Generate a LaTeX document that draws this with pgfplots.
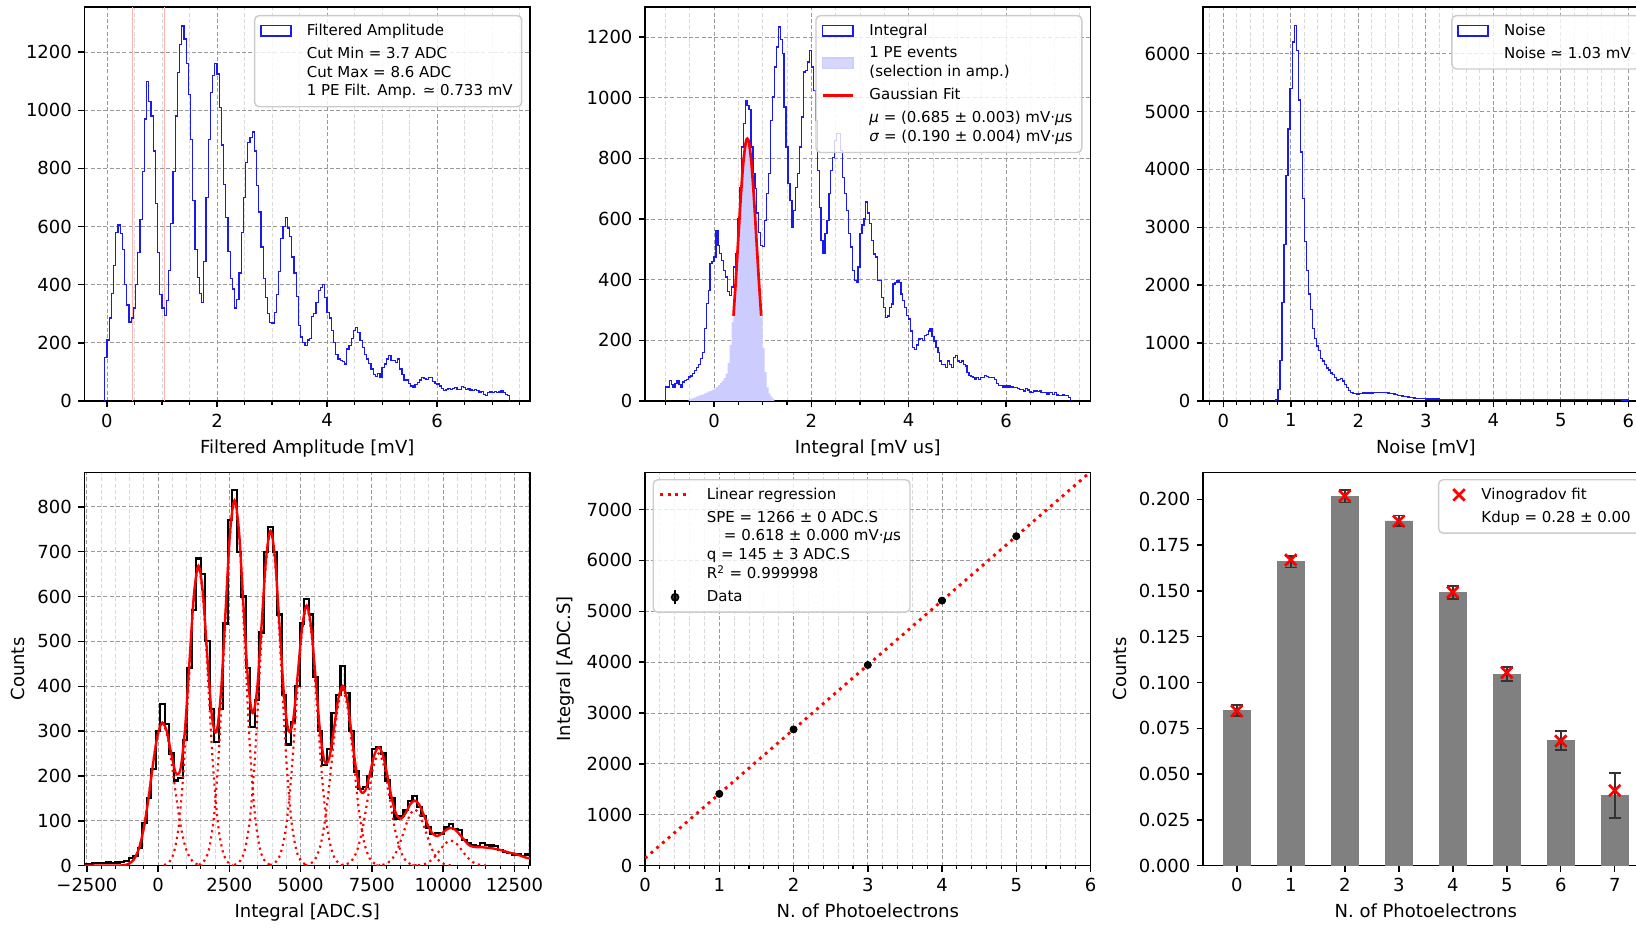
\documentclass[border=0pt]{standalone}
\usepackage{fontspec}
\setmainfont{DejaVu Sans}
\usepackage{pgfplots}
\pgfplotsset{compat=1.18}
\definecolor{hblue}{rgb}{0.1,0.1,0.95}
\definecolor{lblue}{rgb}{0.8,0.8,1}
\definecolor{cutred}{rgb}{1,0.7,0.7}
\definecolor{errgray}{rgb}{0.2,0.2,0.2}
\definecolor{bargray}{rgb}{0.5,0.5,0.5}
\pgfplotsset{
  mpl/.style={
    scale only axis, width=247.5pt,
    tick align=outside, tick pos=left,
    major tick length=3.5pt, minor tick length=2pt,
    every tick/.append style={black, line width=0.8pt},
    every minor tick/.append style={line width=0.6pt},
    axis line style={line width=0.8pt},
    tick label style={font=\fontsize{10}{12}\selectfont},
    label style={font=\fontsize{10}{12}\selectfont},
    /pgf/number format/assume math mode=true,
    /pgf/number format/1000 sep={},
    scaled ticks=false,
    legend cell align=left,
    legend style={font=\fontsize{8.33}{10.5}\selectfont, draw=black!20, line width=0.8pt,
      rounded corners=2.5pt, fill=white, fill opacity=0.8, text opacity=1, draw opacity=1,
      inner xsep=3pt, inner ysep=2.5pt,
      cells={anchor=west, align=left, inner ysep=0.8pt, inner xsep=1pt}, row sep=1pt,
      /tikz/every odd column/.append style={column sep=6.5pt}},
  },
  mplgrid/.style={grid=both,
    major grid style={line width=0.5pt, gray!80, dash pattern=on 2.2pt off 1.3pt},
    minor grid style={line width=0.5pt, gray!30, dash pattern=on 2.2pt off 1.3pt}},
  hist/.style={const plot, hblue, line width=0.7pt},
  fitdot/.style={red, line width=1.2pt, dash pattern=on 1.2pt off 2.2pt, smooth},
  rectleg/.style={legend image code/.code={\draw[hblue, line width=0.8pt, sharp corners] (0pt,-2.9pt) rectangle (16.7pt,2.9pt);}},
}
\begin{document}
\begin{tikzpicture}
% ---------------- Panel 1 ----------------
\begin{axis}[mpl, mplgrid, at={(46.95pt,511.15pt)}, anchor=north west, height=218.9pt,
  xmin=-0.408, xmax=7.688, ymin=0, ymax=1355,
  xtick={0,2,4,6}, minor xtick={-0.5,0,...,7.5}, ytick={0,200,...,1200},
  xlabel={Filtered Amplitude [mV]},
  legend style={at={(0.983,0.98)}, anchor=north east}]
\addlegendimage{rectleg}
\addlegendentry{Filtered Amplitude}
\addlegendimage{empty legend}
\addlegendentry{Cut Min = 3.7 ADC\\Cut Max = 8.6 ADC\\1 PE Filt. Amp. ≃ 0.733 mV}
\addplot[cutred, line width=0.8pt, forget plot] coordinates {(0.46,0) (0.46,1355)};
\addplot[cutred, line width=0.8pt, forget plot] coordinates {(1.05,0) (1.05,1355)};
\addplot[hist, forget plot] coordinates {(-0.04,0) (-0.04,150) (0,210) (0.04,285) (0.08,370) (0.12,465) (0.16,580) (0.2,605) (0.24,575) (0.28,520) (0.32,400) (0.36,330) (0.4,272) (0.44,285) (0.48,320) (0.52,400) (0.56,510) (0.6,625) (0.64,790) (0.68,970) (0.72,1100) (0.76,1030) (0.8,980) (0.84,860) (0.88,680) (0.92,510) (0.96,365) (1,320) (1.04,295) (1.08,345) (1.12,450) (1.16,610) (1.2,790) (1.24,980) (1.28,1130) (1.32,1225) (1.36,1290) (1.4,1245) (1.44,1160) (1.48,1055) (1.52,900) (1.56,690) (1.6,520) (1.64,425) (1.68,370) (1.72,340) (1.76,480) (1.8,700) (1.84,900) (1.88,1060) (1.92,1120) (1.96,1160) (2,1125) (2.04,1010) (2.08,880) (2.12,745) (2.16,630) (2.2,515) (2.24,420) (2.28,385) (2.32,320) (2.36,350) (2.4,440) (2.44,580) (2.48,700) (2.52,820) (2.56,890) (2.6,905) (2.64,925) (2.68,860) (2.72,740) (2.76,650) (2.8,530) (2.84,420) (2.88,355) (2.92,300) (2.96,270) (3,268) (3.04,305) (3.08,365) (3.12,445) (3.16,560) (3.2,600) (3.24,630) (3.28,595) (3.32,565) (3.36,495) (3.4,440) (3.44,360) (3.48,260) (3.52,220) (3.56,200) (3.6,190) (3.64,210) (3.68,215) (3.72,290) (3.76,300) (3.8,340) (3.84,380) (3.88,390) (3.92,400) (3.96,357) (4,305) (4.04,285) (4.08,242) (4.12,200) (4.16,160) (4.2,144) (4.24,138) (4.28,135) (4.32,127) (4.36,179) (4.4,190) (4.44,215) (4.48,242) (4.52,254) (4.56,235) (4.6,207) (4.64,184) (4.68,160) (4.72,144) (4.76,130) (4.8,110) (4.84,92) (4.88,85) (4.92,95) (4.96,80) (5,115) (5.04,127) (5.08,144) (5.12,156) (5.16,138) (5.2,140) (5.24,132) (5.28,144) (5.32,110) (5.36,92) (5.4,72) (5.44,72) (5.48,60) (5.52,52) (5.56,46) (5.6,56) (5.64,63) (5.68,72) (5.72,80) (5.76,77) (5.8,75) (5.84,80) (5.88,81) (5.92,68) (5.96,60) (6,58) (6.04,52) (6.08,42) (6.12,35) (6.16,40) (6.2,44) (6.24,40) (6.28,44) (6.32,46) (6.36,40) (6.4,40) (6.44,50) (6.48,46) (6.52,40) (6.56,43) (6.6,38) (6.64,35) (6.68,40) (6.72,36) (6.76,29) (6.8,32) (6.84,22) (6.88,18) (6.92,28) (6.96,33) (7,29) (7.04,32) (7.08,28) (7.12,31) (7.16,35) (7.2,28) (7.24,23) (7.28,20) (7.32,0)};
\end{axis}
% ---------------- Panel 2 ----------------
\begin{axis}[mpl, mplgrid, at={(358.4pt,511.15pt)}, anchor=north west, height=218.9pt,
  xmin=-1.416, xmax=7.736, ymin=0, ymax=1299,
  xtick={0,2,4,6}, minor xtick={-1,-0.5,...,7.5}, ytick={0,200,...,1200},
  xlabel={Integral [mV us]},
  legend style={at={(0.982,0.98)}, anchor=north east}]
\addlegendimage{rectleg}
\addlegendentry{Integral}
\addlegendimage{legend image code/.code={\fill[lblue, sharp corners] (0pt,-2.9pt) rectangle (16.7pt,2.9pt);}}
\addlegendentry{1 PE events\\(selection in amp.)}
\addlegendimage{legend image code/.code={\draw[red, line width=1.5pt] (0pt,0pt) -- (16.7pt,0pt);}}
\addlegendentry{Gaussian Fit}
\addlegendimage{empty legend}
\addlegendentry{\textit{μ} = (0.685 ± 0.003) mV·\textit{μ}s\\\textit{σ} = (0.190 ± 0.004) mV·\textit{μ}s}
\addplot[hist, forget plot] coordinates {(-1,0) (-1,46) (-0.96,46) (-0.92,68) (-0.88,55) (-0.84,46) (-0.8,57) (-0.76,68) (-0.72,55) (-0.68,46) (-0.64,63) (-0.6,68) (-0.56,70) (-0.52,79) (-0.48,82) (-0.44,90) (-0.4,101) (-0.36,110) (-0.32,120) (-0.28,140) (-0.24,160) (-0.2,238) (-0.16,321) (-0.12,365) (-0.08,453) (-0.04,460) (0,475) (0.04,563) (0.08,513) (0.12,486) (0.16,464) (0.2,431) (0.24,409) (0.28,360) (0.32,348) (0.36,376) (0.4,442) (0.44,486) (0.48,600) (0.52,705) (0.56,837) (0.6,914) (0.64,991) (0.68,975) (0.72,960) (0.76,837) (0.8,750) (0.84,700) (0.88,620) (0.92,555) (0.96,513) (1,510) (1.04,596) (1.08,684) (1.12,750) (1.16,925) (1.2,1002) (1.24,1101) (1.28,1167) (1.32,1233) (1.36,1191) (1.4,1145) (1.44,969) (1.48,837) (1.52,716) (1.56,661) (1.6,574) (1.64,629) (1.68,705) (1.72,750) (1.76,837) (1.8,936) (1.84,1085) (1.88,1090) (1.92,1118) (1.96,1155) (2,1101) (2.04,1024) (2.08,925) (2.12,761) (2.16,637) (2.2,530) (2.24,486) (2.28,552) (2.32,596) (2.36,684) (2.4,761) (2.44,804) (2.48,859) (2.52,881) (2.56,881) (2.6,826) (2.64,738) (2.68,684) (2.72,629) (2.76,552) (2.8,508) (2.84,431) (2.88,398) (2.92,392) (2.96,442) (3,552) (3.04,580) (3.08,600) (3.12,656) (3.16,620) (3.2,584) (3.24,530) (3.28,485) (3.32,475) (3.36,397) (3.4,397) (3.44,342) (3.48,309) (3.52,275) (3.56,280) (3.6,309) (3.64,320) (3.68,386) (3.72,390) (3.76,397) (3.8,390) (3.84,353) (3.88,331) (3.92,309) (3.96,281) (4,270) (4.04,231) (4.08,176) (4.12,170) (4.16,185) (4.2,204) (4.24,207) (4.28,200) (4.32,215) (4.36,220) (4.4,231) (4.44,237) (4.48,212) (4.52,198) (4.56,176) (4.6,160) (4.64,132) (4.68,121) (4.72,121) (4.76,110) (4.8,132) (4.84,121) (4.88,110) (4.92,143) (4.96,149) (5,132) (5.04,128) (5.08,132) (5.12,121) (5.16,115) (5.2,94) (5.24,83) (5.28,80) (5.32,77) (5.36,72) (5.4,77) (5.44,72) (5.48,77) (5.52,77) (5.56,83) (5.6,80) (5.64,77) (5.68,77) (5.72,77) (5.76,72) (5.8,58) (5.84,50) (5.88,50) (5.92,44) (5.96,50) (6,44) (6.04,50) (6.08,44) (6.12,48) (6.16,44) (6.2,44) (6.24,41) (6.28,39) (6.32,39) (6.36,33) (6.4,40) (6.44,36) (6.48,30) (6.52,28) (6.56,33) (6.6,33) (6.64,31) (6.68,33) (6.72,28) (6.76,28) (6.8,28) (6.84,22) (6.88,27) (6.92,27) (6.96,22) (7,27) (7.04,20) (7.08,17) (7.12,17) (7.16,20) (7.2,17) (7.24,17) (7.28,12) (7.32,0)};
\addplot[const plot, fill=lblue, draw=none, forget plot] coordinates {(-0.52,0) (-0.52,5) (-0.48,8) (-0.44,10) (-0.4,12) (-0.36,15) (-0.32,18) (-0.28,20) (-0.24,22) (-0.2,25) (-0.16,28) (-0.12,32) (-0.08,33) (-0.04,36) (0,40) (0.04,46) (0.08,52) (0.12,60) (0.16,66) (0.2,75) (0.24,90) (0.28,125) (0.32,185) (0.36,260) (0.4,330) (0.44,410) (0.48,495) (0.52,610) (0.56,720) (0.6,800) (0.64,845) (0.68,848) (0.72,820) (0.76,755) (0.8,690) (0.84,590) (0.88,460) (0.92,350) (0.96,275) (1,175) (1.04,95) (1.08,45) (1.12,25) (1.16,15) (1.2,8) (1.24,0)};
\addplot[red, line width=1.5pt, smooth, forget plot] coordinates {(0.40,281) (0.45,402) (0.50,538) (0.55,672) (0.60,783) (0.65,850) (0.685,865) (0.72,850) (0.77,783) (0.82,672) (0.87,538) (0.92,402) (0.97,281)};
\end{axis}
% ---------------- Panel 3 ----------------
\begin{axis}[mpl, mplgrid, at={(668.4pt,511.15pt)}, anchor=north west, height=218.9pt,
  xmin=-0.3, xmax=6.3, ymin=0, ymax=6805,
  xtick={0,...,6}, minor xtick={-0.2,0,...,6.2}, ytick={0,1000,...,6000},
  xlabel={Noise [mV]},
  legend style={at={(0.982,0.98)}, anchor=north east}]
\addlegendimage{rectleg}
\addlegendentry{Noise}
\addlegendimage{empty legend}
\addlegendentry{Noise ≃ 1.03 mV}
\addplot[hist, forget plot] coordinates {(0.78,0) (0.78,20) (0.81,200) (0.84,700) (0.87,1700) (0.9,2700) (0.93,3900) (0.96,4700) (0.99,5400) (1.02,6200) (1.05,6490) (1.08,6050) (1.11,5200) (1.14,4300) (1.17,3500) (1.2,2750) (1.23,2250) (1.26,1850) (1.29,1580) (1.32,1250) (1.35,1080) (1.38,950) (1.41,870) (1.44,730) (1.47,690) (1.5,630) (1.53,570) (1.56,535) (1.59,484) (1.62,455) (1.65,410) (1.68,362) (1.71,370) (1.74,385) (1.77,345) (1.8,290) (1.83,230) (1.86,180) (1.89,145) (1.92,130) (1.95,135) (1.98,118) (2.01,127) (2.04,130) (2.07,138) (2.1,135) (2.13,140) (2.16,144) (2.19,140) (2.22,145) (2.25,148) (2.28,150) (2.31,152) (2.34,150) (2.37,148) (2.4,144) (2.43,140) (2.46,130) (2.49,125) (2.52,120) (2.55,110) (2.58,100) (2.61,92) (2.64,85) (2.67,80) (2.7,75) (2.73,70) (2.76,62) (2.79,55) (2.82,50) (2.85,45) (2.88,42) (2.91,40) (2.94,38) (3.0,36) (3.1,34) (3.2,32) (3.3,31) (3.4,30) (3.5,29) (3.6,28) (3.7,28) (3.8,27) (3.9,27) (4.0,26) (4.1,26) (4.2,25) (4.3,25) (4.4,24) (4.5,24) (4.6,23) (4.7,23) (4.8,23) (4.9,22) (5.0,22) (5.1,22) (5.2,21) (5.3,21) (5.4,21) (5.5,20) (5.6,20) (5.7,20) (5.8,20) (5.9,19) (6.0,0)};
\end{axis}
% ---------------- Panel 4 ----------------
\begin{axis}[mpl, mplgrid, at={(46.95pt,252.6pt)}, anchor=north west, height=218.5pt,
  xmin=-2584, xmax=13047, ymin=0, ymax=877,
  xtick={-2500,0,2500,5000,7500,10000,12500},
  xticklabels={−2500,0,2500,5000,7500,10000,12500},
  minor xtick={-2500,-2000,...,13000}, ytick={0,100,...,800},
  xlabel={Integral [ADC.S]}, ylabel={Counts}]
\addplot[const plot, black, line width=1.2pt] coordinates {(-2617,0) (-2617,4) (-2459,4) (-2301,5) (-2143,6) (-1985,5) (-1827,7) (-1668,6) (-1510,7) (-1352,8) (-1194,10) (-1036,17) (-878,22) (-720,40) (-562,95) (-403,150) (-245,215) (-87,300) (71,360) (229,315) (387,250) (545,190) (704,195) (862,280) (1020,440) (1178,570) (1336,685) (1494,650) (1652,500) (1810,350) (1969,275) (2127,350) (2285,540) (2443,770) (2601,838) (2759,700) (2917,600) (3075,440) (3234,310) (3392,370) (3550,520) (3708,700) (3866,755) (4024,700) (4182,560) (4340,380) (4499,270) (4657,320) (4815,400) (4973,540) (5131,595) (5289,560) (5447,420) (5605,300) (5764,225) (5922,260) (6080,340) (6238,380) (6396,445) (6554,385) (6712,300) (6870,210) (7029,170) (7187,175) (7345,200) (7503,260) (7661,265) (7819,250) (7977,190) (8135,150) (8294,105) (8452,110) (8610,125) (8768,145) (8926,155) (9084,130) (9242,110) (9400,85) (9559,70) (9717,72) (9875,70) (10033,85) (10191,92) (10349,82) (10507,80) (10665,58) (10824,50) (10982,45) (11140,44) (11298,50) (11456,46) (11614,45) (11773,44) (11931,35) (12089,30) (12247,28) (12405,25) (12563,25) (12721,22) (12880,25) (13100,25)};
\addplot[red, line width=1.3pt, smooth] coordinates {(-2600,0) (-1431,0) (-1273,1) (-1115,2) (-957,7) (-799,19) (-641,45) (-483,91) (-324,157) (-166,233) (-8,294) (150,319) (308,298) (466,248) (624,206) (782,215) (941,304) (1099,456) (1257,605) (1415,669) (1573,606) (1731,462) (1889,332) (2047,298) (2206,389) (2364,567) (2522,742) (2680,815) (2838,745) (2996,578) (3154,413) (3313,340) (3471,393) (3629,537) (3787,685) (3945,747) (4103,684) (4261,533) (4419,379) (4578,300) (4736,324) (4894,424) (5052,532) (5210,580) (5368,532) (5526,418) (5684,298) (5843,232) (6001,239) (6159,301) (6317,371) (6475,401) (6633,369) (6791,293) (6949,213) (7108,166) (7266,167) (7424,204) (7582,246) (7740,264) (7898,244) (8056,197) (8214,145) (8373,112) (8531,105) (8689,118) (8847,137) (9005,145) (9163,136) (9321,113) (9479,88) (9638,71) (9796,66) (9954,72) (10112,80) (10270,84) (10428,80) (10586,69) (10744,57) (10903,46) (11061,42) (11219,41) (11377,41) (11535,40) (11694,39) (11852,37) (12010,35) (12168,32) (12326,29) (12484,27) (12643,24) (12801,20) (12959,17) (13117,15)};
\addplot[fitdot] coordinates {(-1250,0.7) (-1050,3.5) (-850,14) (-650,43) (-450,103) (-250,193) (-50,281) (150,318) (350,281) (550,193) (750,103) (950,43) (1150,14) (1350,3.5) (1550,0.7)};
\addplot[fitdot] coordinates {(207,1.5) (380,7.4) (552,29.2) (725,90) (897,216) (1070,403) (1242,587) (1415,665) (1587,587) (1760,403) (1932,216) (2105,90) (2277,29.2) (2450,7.4) (2622,1.5)};
\addplot[fitdot] coordinates {(1420,1.8) (1600,9) (1780,35.6) (1960,110) (2140,264) (2320,492) (2500,717) (2680,812) (2860,717) (3040,492) (3220,264) (3400,110) (3580,35.6) (3760,9) (3940,1.8)};
\addplot[fitdot] coordinates {(2667,1.6) (2850,8.3) (3032,32.7) (3215,100.7) (3397,241.6) (3580,451.2) (3762,656.6) (3945,744) (4127,656.6) (4310,451.2) (4492,241.6) (4675,100.7) (4857,32.7) (5040,8.3) (5222,1.6)};
\addplot[fitdot] coordinates {(3915,1.3) (4100,6.4) (4285,25.2) (4470,77.8) (4655,186.7) (4840,348.7) (5025,507.4) (5210,575) (5395,507.4) (5580,348.7) (5765,186.7) (5950,77.8) (6135,25.2) (6320,6.4) (6505,1.3)};
\addplot[fitdot] coordinates {(5162,0.9) (5350,4.4) (5537,17.2) (5725,53) (5912,127.3) (6100,237.7) (6287,345.9) (6475,392) (6662,345.9) (6850,237.7) (7037,127.3) (7225,53) (7412,17.2) (7600,4.4) (7787,0.9)};
\addplot[fitdot] coordinates {(6410,0.6) (6600,2.8) (6790,11) (6980,33.8) (7170,81.2) (7360,151.6) (7550,220.6) (7740,250) (7930,220.6) (8120,151.6) (8310,81.2) (8500,33.8) (8690,11) (8880,2.8) (9070,0.6)};
\addplot[fitdot] coordinates {(7657,0.3) (7850,1.4) (8042,5.5) (8235,16.9) (8427,40.6) (8620,75.8) (8812,110.3) (9005,125) (9197,110.3) (9390,75.8) (9582,40.6) (9775,16.9) (9967,5.5) (10160,1.4) (10352,0.3)};
\addplot[fitdot] coordinates {(8905,0.1) (9100,0.6) (9295,2.5) (9490,7.6) (9685,18.2) (9880,34) (10075,49.4) (10270,56) (10465,49.4) (10660,34) (10855,18.2) (11050,7.6) (11245,2.5) (11440,0.6) (11635,0.1)};
\end{axis}
% ---------------- Panel 5 ----------------
\begin{axis}[mpl, mplgrid, at={(358.4pt,252.6pt)}, anchor=north west, height=218.5pt,
  xmin=0, xmax=6, ymin=0, ymax=7730,
  xtick={0,...,6}, minor xtick={0,0.2,...,6}, ytick={0,1000,...,7000},
  xlabel={N. of Photoelectrons}, ylabel={Integral [ADC.S]},
  legend style={at={(0.0167,0.983)}, anchor=north west}]
\addlegendimage{legend image code/.code={\draw[red, line width=1.6pt, dash pattern=on 1.6pt off 2.6pt] (0pt,0pt) -- (16.7pt,0pt);}}
\addlegendentry{Linear regression}
\addlegendimage{empty legend}
\addlegendentry{SPE = 1266 ± 0 ADC.S\\\hspace*{9.5pt}= 0.618 ± 0.000 mV·\textit{μ}s\\q = 145 ± 3 ADC.S\\R\textsuperscript{2} = 0.999998}
\addlegendimage{legend image code/.code={\draw[black, line width=0.9pt] (8.35pt,-4pt) -- (8.35pt,4pt); \fill[black] (8.35pt,0pt) circle (2pt);}}
\addlegendentry{Data}
\addplot[red, line width=1.6pt, dash pattern=on 1.6pt off 2.6pt, forget plot] coordinates {(0,145) (6,7741)};
\addplot[only marks, mark=*, mark size=2pt, black, forget plot,
  error bars/.cd, y dir=both, y explicit] coordinates {(1,1411) +- (0,15) (2,2677) +- (0,15) (3,3943) +- (0,15) (4,5209) +- (0,15) (5,6475) +- (0,15)};
\end{axis}
% ---------------- Panel 6 ----------------
\begin{axis}[mpl, at={(668.4pt,252.6pt)}, anchor=north west, height=218.5pt,
  xmin=-0.625, xmax=7.625, ymin=0, ymax=0.2147,
  xtick={0,...,7}, ytick={0,0.025,0.05,0.075,0.1,0.125,0.15,0.175,0.2},
  yticklabels={0.000,0.025,0.050,0.075,0.100,0.125,0.150,0.175,0.200},
  xlabel={N. of Photoelectrons}, ylabel={Counts},
  legend style={at={(0.982,0.983)}, anchor=north east}]
\addlegendimage{legend image code/.code={\draw[red, line width=1.5pt, sharp corners] (8.35pt,0pt) +(-3.2pt,-3.2pt) -- +(3.2pt,3.2pt) +(-3.2pt,3.2pt) -- +(3.2pt,-3.2pt);}}
\addlegendentry{Vinogradov fit}
\addlegendimage{empty legend}
\addlegendentry{Kdup = 0.28 ± 0.00}
\addplot[ybar, bar width=0.5, fill=bargray, draw=bargray, forget plot,
  error bars/.cd, y dir=both, y explicit,
  error bar style={errgray, line width=1pt},
  error mark options={rotate=90, errgray, line width=1pt, mark size=3.3pt}]
  coordinates {(0,0.0848) +- (0,0.003) (1,0.166) +- (0,0.0032) (2,0.2016) +- (0,0.0033) (3,0.1882) +- (0,0.003) (4,0.149) +- (0,0.0035) (5,0.1045) +- (0,0.0038) (6,0.0682) +- (0,0.0052) (7,0.0383) +- (0,0.0121)};
\addplot[only marks, mark=x, red, mark size=4.5pt, line width=1.5pt, forget plot] coordinates {(0,0.0844) (1,0.1669) (2,0.2018) (3,0.188) (4,0.1492) (5,0.1054) (6,0.068) (7,0.041)};
\end{axis}
\pgfresetboundingbox
\useasboundingbox (0,0) rectangle (908.96pt,515.04pt);
\end{tikzpicture}
\end{document}
